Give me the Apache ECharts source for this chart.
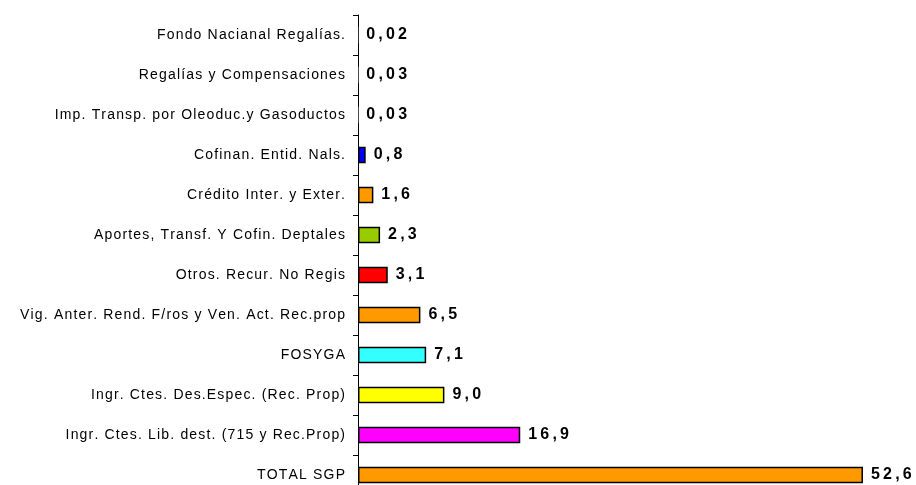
<!DOCTYPE html>
<html>
<head>
<meta charset="utf-8">
<script src="https://cdn.jsdelivr.net/npm/echarts@6/dist/echarts.min.js"></script>
<style>
  html, body { margin: 0; padding: 0; background: #fff; overflow: hidden; height: 485px; }
  /* un poco mas alto que la ventana: la ultima fila queda cortada, como en el original */
  #main { width: 916px; height: 495px; }
</style>
</head>
<body>
<div id="main"></div>
<script>
// categorias de abajo hacia arriba
var categorias = [
  'TOTAL SGP',
  'Ingr. Ctes. Lib. dest. (715 y Rec.Prop)',
  'Ingr. Ctes. Des.Espec. (Rec. Prop)',
  'FOSYGA',
  'Vig. Anter. Rend. F/ros y Ven. Act. Rec.prop',
  'Otros. Recur. No Regis',
  'Aportes, Transf. Y Cofin. Deptales',
  'Crédito Inter. y Exter.',
  'Cofinan. Entid. Nals.',
  'Imp. Transp. por Oleoduc.y Gasoductos',
  'Regalías y Compensaciones',
  'Fondo Nacianal Regalías.'
];
var valores = [52.6, 16.9, 9.0, 7.1, 6.5, 3.1, 2.3, 1.6, 0.8, 0.03, 0.03, 0.02];
var etiquetas = ['52,6', '16,9', '9,0', '7,1', '6,5', '3,1', '2,3', '1,6', '0,8', '0,03', '0,03', '0,02'];
var colores = ['#FF9900', '#FF00FF', '#FFFF00', '#33FFFF', '#FF9900', '#FF0000',
               '#99CC00', '#FF9900', '#0000FF', '#FFFFFF', '#FFFFFF', '#FFFFFF'];

var myChart = echarts.init(document.getElementById('main'));

// espaciado entre letras (como en el original)
function espaciar(txt, sep) {
  return txt.split('').join(sep);
}

var datos = [];
for (var i = 0; i < valores.length; i++) {
  datos.push({
    value: valores[i],
    itemStyle: { color: colores[i], borderWidth: valores[i] < 0.1 ? 0 : 1.5 }
  });
}

var option = {
  animation: false,
  grid: { left: 358, right: 30, top: 15, bottom: 0 },
  xAxis: {
    type: 'value',
    min: 0,
    max: 55,
    show: false
  },
  yAxis: {
    type: 'category',
    data: categorias,
    axisLine: { show: true, lineStyle: { color: '#000', width: 1 } },
    axisTick: { show: true, length: 5, lineStyle: { color: '#000' } },
    axisLabel: {
      color: '#000',
      fontFamily: 'Liberation Sans, Arial, sans-serif',
      fontSize: 14,
      margin: 13,
      formatter: function (v) { return espaciar(v, '\u200A'); }
    },
    splitLine: { show: false }
  },
  series: [{
    type: 'bar',
    data: datos,
    barWidth: 16.5,
    itemStyle: { borderColor: '#000', borderWidth: 1.5 },
    label: {
      show: true,
      position: 'right',
      distance: 8,
      color: '#000',
      fontWeight: 'bold',
      fontSize: 16,
      fontFamily: 'Liberation Sans, Arial, sans-serif',
      formatter: function (p) { return espaciar(etiquetas[p.dataIndex], '\u2009'); }
    }
  }]
};
myChart.setOption(option);
</script>
</body>
</html>
